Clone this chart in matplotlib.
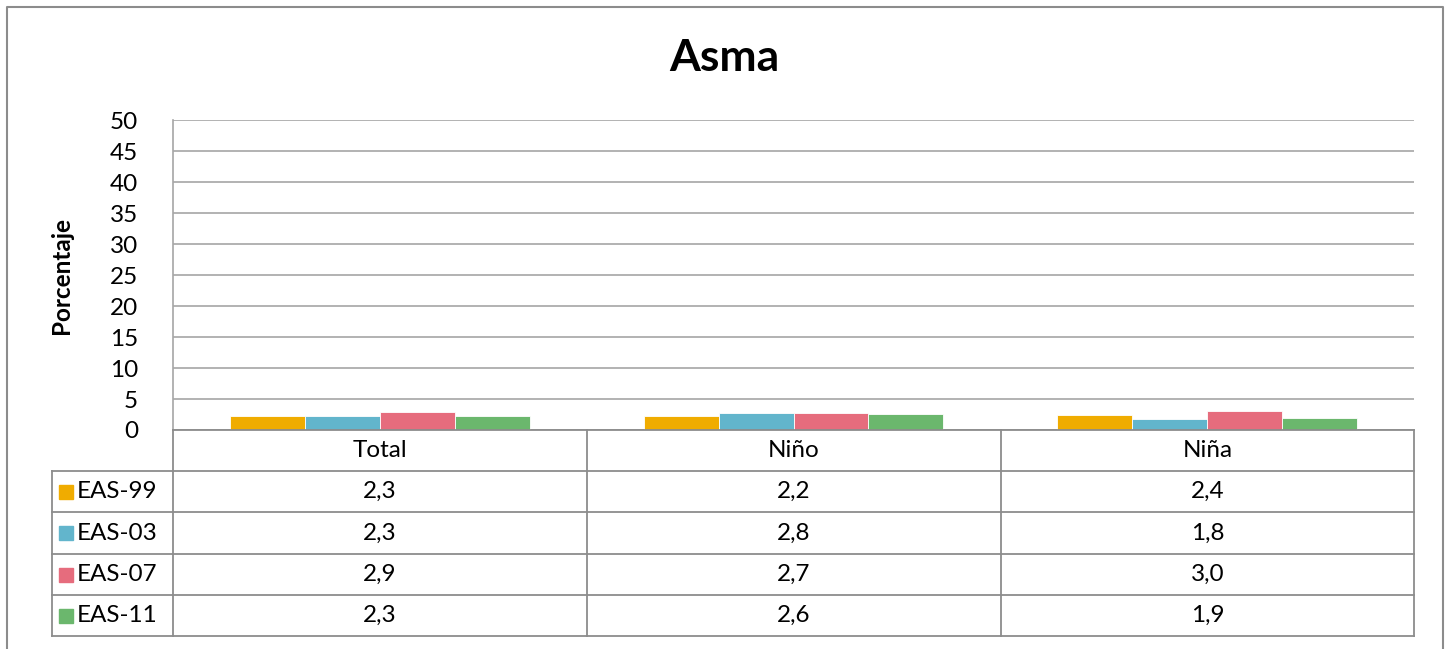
import numpy as np
import matplotlib.pyplot as plt
from matplotlib.patches import Rectangle

# chart data
categories = ["Total", "Niño", "Niña"]
series = ["EAS-99", "EAS-03", "EAS-07", "EAS-11"]
eas99 = [2.3, 2.2, 2.4]
eas03 = [2.3, 2.8, 1.8]
eas07 = [2.9, 2.7, 3.0]
eas11 = [2.3, 2.6, 1.9]
colors = ["#F0AC00", "#62B5CC", "#E66C7D", "#6BB76D"]
yticks = [0, 5, 10, 15, 20, 25, 30, 35, 40, 45, 50]

W, H = 1447, 649
plt.rcParams['font.family'] = ['Lato', 'DejaVu Sans']
fig = plt.figure(figsize=(W / 100, H / 100), dpi=100)


def px(x0, y0, x1, y1):
    # pixel box (top-left origin) -> figure fraction rect
    return [x0 / W, 1 - y1 / H, (x1 - x0) / W, (y1 - y0) / H]


grid_c = "#A6A6A6"
line_c = "#8C8C8C"
fs = 17.5

# outer chart border
border = fig.add_axes([0, 0, 1, 1])
border.set_xlim(0, W)
border.set_ylim(H, 0)
border.axis("off")
border.plot([7, 7, 1443, 1443], [H + 5, 7, 7, H + 5], color=line_c, lw=1.5)

# bars
ax = fig.add_axes(px(173, 120, 1414, 430))
values = [eas99, eas03, eas07, eas11]
x = np.arange(len(categories))
bw = 0.181
for i, (vals, c) in enumerate(zip(values, colors)):
    ax.bar(x + (i - 1.5) * bw, vals, width=bw, color=c, edgecolor="white", linewidth=0.6, zorder=3)
ax.set_xlim(-0.5, 2.5)
ax.set_ylim(0, 50)
ax.set_yticks(yticks)
ax.set_yticklabels([str(t) for t in yticks], fontsize=fs)
ax.yaxis.grid(True, color=grid_c, lw=1.2, zorder=0)
ax.set_xticks([])
ax.tick_params(axis="y", length=0, pad=25)
for s in ["top", "right", "bottom"]:
    ax.spines[s].set_visible(False)
ax.spines["left"].set_color(grid_c)
ax.spines["left"].set_linewidth(1.2)
ax.set_ylabel("Porcentaje", fontsize=17.5, fontweight="bold", labelpad=27)

fig.text(724 / W, 1 - 58 / H, "Asma", ha="center", va="center", fontsize=32, fontweight="bold")

# data table
tb = fig.add_axes([0, 0, 1, 1])
tb.set_xlim(0, W)
tb.set_ylim(H, 0)
tb.axis("off")
cols = [173, 587, 1001, 1414]
rows = [430, 471, 512, 554, 595, 636]
lw = 1.3
# horizontal lines
tb.plot([173, 1414], [rows[0]] * 2, color=line_c, lw=lw)
for r in rows[1:]:
    tb.plot([52, 1414], [r, r], color=line_c, lw=lw)
# vertical lines
for c in cols:
    tb.plot([c, c], [rows[0], rows[-1]], color=line_c, lw=lw)
tb.plot([52, 52], [rows[1], rows[-1]], color=line_c, lw=lw)

for j, cat in enumerate(categories):
    xc = (cols[j] + cols[j + 1]) / 2
    tb.text(xc, (rows[0] + rows[1]) / 2, cat, ha="center", va="center", fontsize=fs)
for i, (name, vals, c) in enumerate(zip(series, values, colors)):
    yc = (rows[i + 1] + rows[i + 2]) / 2
    tb.add_patch(Rectangle((59, yc - 7), 14, 14, color=c))
    tb.text(77, yc, name, ha="left", va="center", fontsize=fs)
    for j, v in enumerate(vals):
        xc = (cols[j] + cols[j + 1]) / 2
        tb.text(xc, yc, f"{v:.1f}".replace(".", ","), ha="center", va="center", fontsize=fs)

fig.savefig("out.png", dpi=100, facecolor="white")
